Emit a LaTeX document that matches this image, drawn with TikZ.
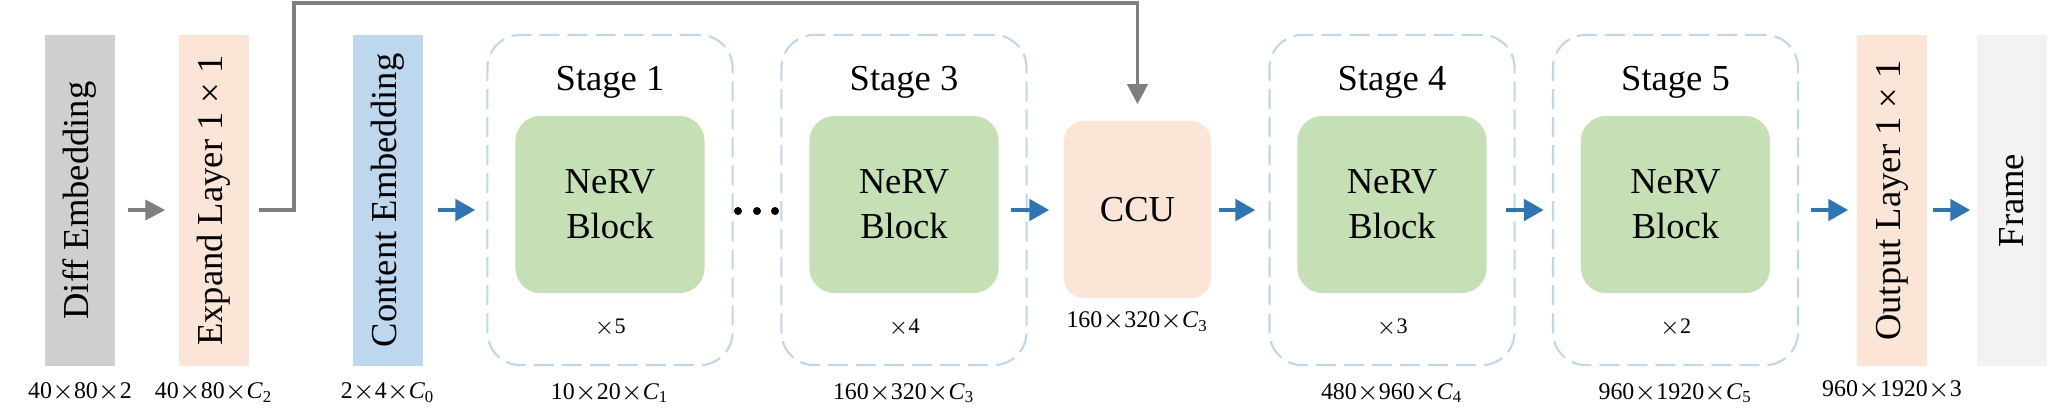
\documentclass[tikz,border=0pt]{standalone}
\usepackage{fontspec}
\setmainfont{Liberation Serif}
\usepackage{xcolor}
\definecolor{diffGray}{HTML}{D0CECE}
\definecolor{layerPeach}{HTML}{FBE5D6}
\definecolor{embedBlue}{HTML}{BDD7EE}
\definecolor{blockGreen}{HTML}{C5E0B4}
\definecolor{frameGray}{HTML}{F2F2F2}
\definecolor{stageLine}{HTML}{BDD7EE}
\definecolor{flowBlue}{HTML}{2E75B6}
\definecolor{skipGray}{HTML}{7F7F7F}
\usepackage{tikz}
\usetikzlibrary{
    arrows.meta,
    positioning,
    calc
}
\newcommand{\tms}{$\times$}
\tikzset{
    % Tall layer boxes, text turned upwards
    layerbox/.style={
        rectangle,
        minimum width=0.70cm,
        minimum height=3.31cm,
        inner sep=0pt,
        font=\fontsize{10.4}{12}\selectfont,
    },
    % Dashed frame round one stage
    stageframe/.style={
        rectangle,
        rounded corners=0.33cm,
        draw=stageLine,
        line width=0.6pt,
        dash pattern=on 0.2cm off 0.08cm,
        minimum width=2.45cm,
        minimum height=3.30cm,
        inner sep=0pt,
    },
    % Green NeRV block
    nervblock/.style={
        rectangle,
        rounded corners=0.25cm,
        fill=blockGreen,
        minimum width=1.89cm,
        minimum height=1.77cm,
        inner sep=0pt,
        align=center,
        font=\fontsize{10.4}{12.8}\selectfont,
    },
    % CCU box
    ccubox/.style={
        rectangle,
        rounded corners=0.2cm,
        fill=layerPeach,
        minimum width=1.47cm,
        minimum height=1.77cm,
        inner sep=0pt,
        font=\fontsize{10.4}{12}\selectfont,
    },
    % Texts
    stagetitle/.style={
        anchor=base,
        inner sep=0pt,
        font=\fontsize{10.4}{12}\selectfont,
    },
    repeatlabel/.style={
        anchor=base,
        inner sep=0pt,
        font=\fontsize{6.3}{7}\selectfont,
    },
    dimlabel/.style={
        anchor=base,
        inner sep=0pt,
        font=\fontsize{6.8}{8}\selectfont,
    },
    % Arrows
    flow/.style={
        -{Triangle[length=0.2cm, width=0.21cm]},
        line width=1.4pt,
        draw=flowBlue,
        shorten >=0.12cm,
        shorten <=0.12cm,
    },
    skiparrow/.style={
        -{Triangle[length=0.2cm, width=0.2cm]},
        line width=1.1pt,
        draw=skipGray,
    },
}

\begin{document}
\begin{tikzpicture}[x=0.01cm, y=0.01cm]
    \useasboundingbox (0,0) rectangle (2058,411);
    \coordinate (mid) at (0,201);

    % input side
    \node (diff) [layerbox, fill=diffGray] at (80,210.5) {\rotatebox{90}{Diff Embedding}};
    \node (expand) [layerbox, fill=layerPeach] at (214,210.5) {\rotatebox{90}{Expand Layer 1 × 1}};
    \node (content) [layerbox, fill=embedBlue] at (388,210.5) {\rotatebox{90}{Content Embedding}};

    \node (diffdim) [dimlabel] at ([yshift=-0.32cm]diff.south) {40\tms80\tms2};
    \node (expanddim) [dimlabel] at ([yshift=-0.32cm]expand.south) {40\tms80\tms\textit{C}\textsubscript{2}};
    \node (contentdim) [dimlabel] at ([yshift=-0.32cm]content.south) {2\tms4\tms\textit{C}\textsubscript{0}};

    % stage 1
    \node (s1) [stageframe] at (610,211) {};
    \node (s1title) [stagetitle] at ([yshift=-0.57cm]s1.north) {Stage 1};
    \node (nerv1) [nervblock] at ([yshift=-0.045cm]s1.center) {NeRV\\Block};
    \node (s1rep) [repeatlabel] at ([yshift=0.33cm]s1.south) {\tms5};
    \node (s1dim) [dimlabel] at ([yshift=-0.33cm]s1.south) {10\tms20\tms\textit{C}\textsubscript{1}};

    % dots between the stages
    \fill (738,200) circle [radius=0.04cm] (757,200) circle [radius=0.04cm] (775,200) circle [radius=0.04cm];

    % stage 3
    \node (s3) [stageframe] at (904,211) {};
    \node (s3title) [stagetitle] at ([yshift=-0.57cm]s3.north) {Stage 3};
    \node (nerv3) [nervblock] at ([yshift=-0.045cm]s3.center) {NeRV\\Block};
    \node (s3rep) [repeatlabel] at ([yshift=0.33cm]s3.south) {\tms4};
    \node (s3dim) [dimlabel] at ([yshift=-0.33cm]s3.south) {160\tms320\tms\textit{C}\textsubscript{3}};

    % CCU
    \node (ccu) [ccubox] at (1137.5,201.5) {CCU};
    \node (ccudim) [dimlabel] at ([yshift=-0.29cm]ccu.south) {160\tms320\tms\textit{C}\textsubscript{3}};

    % stage 4
    \node (s4) [stageframe] at (1392,211) {};
    \node (s4title) [stagetitle] at ([yshift=-0.57cm]s4.north) {Stage 4};
    \node (nerv4) [nervblock] at ([yshift=-0.045cm]s4.center) {NeRV\\Block};
    \node (s4rep) [repeatlabel] at ([yshift=0.33cm]s4.south) {\tms3};
    \node (s4dim) [dimlabel] at ([yshift=-0.33cm]s4.south) {480\tms960\tms\textit{C}\textsubscript{4}};

    % stage 5
    \node (s5) [stageframe] at (1675.5,211) {};
    \node (s5title) [stagetitle] at ([yshift=-0.57cm]s5.north) {Stage 5};
    \node (nerv5) [nervblock] at ([yshift=-0.045cm]s5.center) {NeRV\\Block};
    \node (s5rep) [repeatlabel] at ([yshift=0.33cm]s5.south) {\tms2};
    \node (s5dim) [dimlabel] at ([yshift=-0.33cm]s5.south) {960\tms1920\tms\textit{C}\textsubscript{5}};

    % output side
    \node (output) [layerbox, fill=layerPeach] at (1892,210.5) {\rotatebox{90}{Output Layer 1 × 1}};
    \node (frame) [layerbox, fill=frameGray] at (2012,210.5) {\rotatebox{90}{Frame}};
    \node (outputdim) [dimlabel] at ([yshift=-0.30cm]output.south) {960\tms1920\tms3};

    % connections
    \draw [skiparrow, shorten <=0.12cm, shorten >=0.13cm] (diff.east |- mid) -- (expand.west |- mid);
    \coordinate (top) at (294,408);
    \draw [skiparrow, line join=miter, shorten <=0.09cm, shorten >=0.16cm] (expand.east |- mid) -| (top) -| (ccu.north);
    \draw [flow, shorten <=0.14cm, shorten >=0.11cm] (content.east |- mid) -- (s1.west |- mid);
    \draw [flow, shorten >=0.14cm] (nerv3.east |- mid) -- (ccu.west |- mid);
    \draw [flow, shorten <=0.07cm, shorten >=0.13cm] (ccu.east |- mid) -- (s4.west |- mid);
    \draw [flow, shorten <=0.19cm, shorten >=0.08cm] (nerv4.east |- mid) -- (s5.west |- mid);
    \draw [flow, shorten >=0.08cm] (s5.east |- mid) -- (output.west |- mid);
    \draw [flow, shorten <=0.05cm, shorten >=0.06cm] (output.east |- mid) -- (frame.west |- mid);
\end{tikzpicture}
\end{document}
